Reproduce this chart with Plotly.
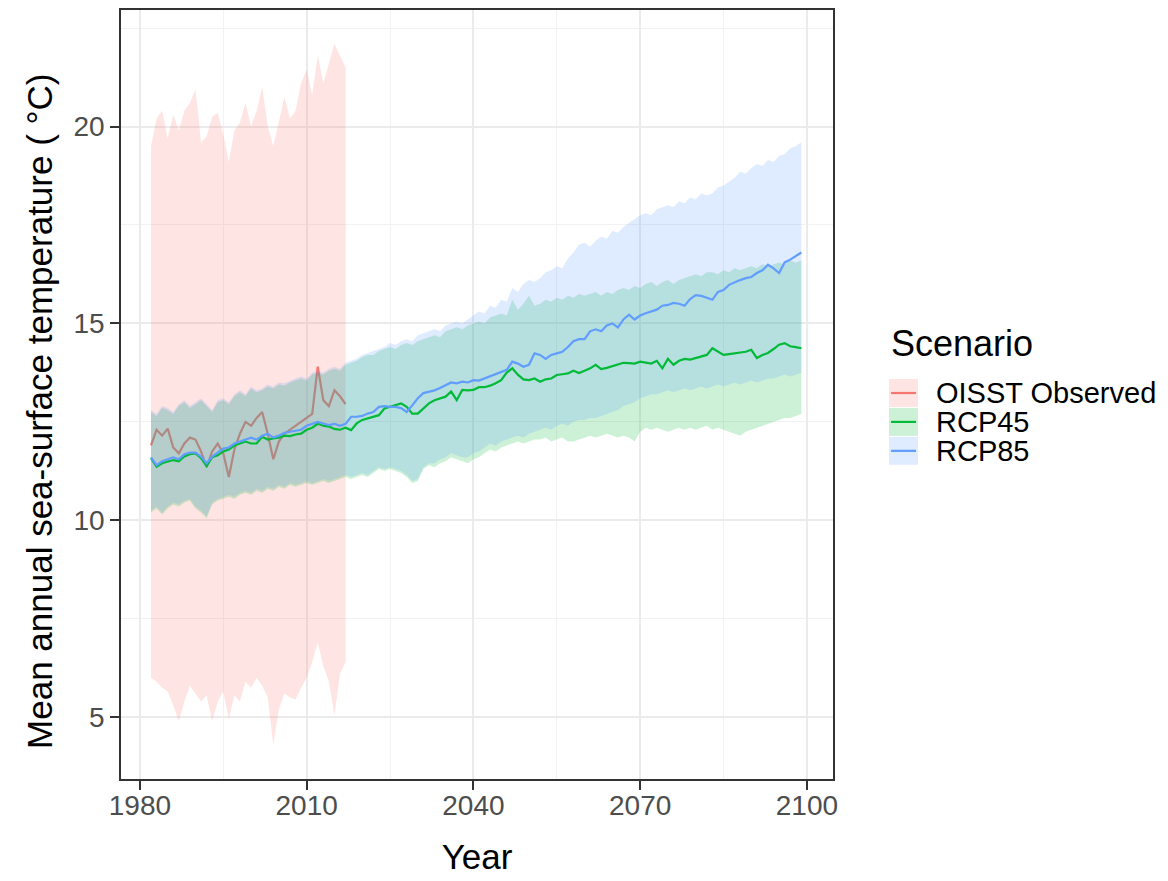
import plotly.graph_objects as go

# ---------------- data ----------------
obs_years = list(range(1982, 2018))
proj_years = list(range(1982, 2100))

oisst_mean = [11.9, 12.3, 12.15, 12.33, 11.85, 11.7, 11.95, 12.1, 12.05, 11.75,
              11.35, 11.75, 11.95, 11.7, 11.1, 11.8, 12.2, 12.5, 12.4, 12.6,
              12.75, 12.2, 11.55, 12.0, 12.2, 12.3, 12.4, 12.5, 12.6, 12.7,
              13.9, 13.05, 12.9, 13.3, 13.15, 12.95]
oisst_upper = [19.5, 20.2, 20.4, 19.7, 20.3, 19.9, 20.4, 20.6, 20.95, 19.6,
               19.75, 20.25, 20.35, 19.8, 19.1, 19.9, 20.1, 20.6, 20.0, 20.4,
               21.0, 20.0, 19.5, 20.1, 20.75, 20.2, 20.4, 21.1, 21.45, 20.8,
               21.8, 21.1, 21.6, 22.1, 21.8, 21.5]
oisst_lower = [6.0, 5.9, 5.75, 5.65, 5.3, 4.9, 5.4, 5.8, 5.6, 5.4,
               5.55, 4.9, 5.4, 5.65, 4.95, 5.55, 5.4, 5.9, 5.75, 6.0,
               5.8, 5.5, 4.3, 5.2, 5.6, 5.5, 5.45, 5.75, 6.0, 6.4,
               6.9, 6.3, 5.9, 5.05, 6.1, 6.4]

rcp45_mean = [11.58, 11.36, 11.45, 11.5, 11.53, 11.5, 11.62, 11.68, 11.7, 11.58,
              11.38, 11.6, 11.65, 11.75, 11.8, 11.9, 11.95, 12.0, 11.95, 11.95,
              12.12, 12.05, 12.08, 12.1, 12.15, 12.14, 12.18, 12.2, 12.3, 12.35,
              12.45, 12.4, 12.38, 12.32, 12.3, 12.35,
              12.29, 12.46, 12.55, 12.59, 12.63, 12.67, 12.84, 12.88, 12.93, 12.97,
              12.88, 12.71, 12.71, 12.84, 12.97, 13.05, 13.1, 13.14, 13.27, 13.05,
              13.31, 13.3, 13.31, 13.38, 13.38, 13.42, 13.48, 13.56, 13.75, 13.86,
              13.7, 13.58, 13.56, 13.6, 13.52, 13.58, 13.6, 13.69, 13.71, 13.73,
              13.8,
              13.74, 13.8, 13.86, 13.95, 13.84, 13.87, 13.92, 13.95, 14.0, 13.99,
              13.98, 14.03, 14.0, 13.98, 14.05, 13.86, 14.1, 13.95, 14.05, 14.1,
              14.08,
              14.12, 14.15, 14.2, 14.37, 14.28, 14.2, 14.22, 14.24, 14.25, 14.28,
              14.33, 14.12, 14.2, 14.25, 14.35, 14.46, 14.5, 14.42, 14.4, 14.37]
rcp45_upper = [12.75, 12.65, 12.85, 12.8, 12.7, 12.9, 13.0, 12.85, 12.95, 13.05,
               12.9, 12.75, 13.0, 13.05, 12.95, 13.15, 13.25, 13.15, 13.35, 13.25,
               13.3, 13.4, 13.35, 13.45, 13.42, 13.5, 13.55, 13.6, 13.55, 13.7,
               13.75, 13.7, 13.8, 13.85, 13.8, 13.95, 14.0, 14.05, 14.15, 14.2,
               14.2, 14.3, 14.35, 14.4, 14.35, 14.45, 14.5, 14.45, 14.55, 14.6,
               14.65, 14.7, 14.65, 14.8, 14.85, 14.9, 14.85, 14.95, 15.0, 15.05,
               15.0, 15.15, 15.2, 15.25, 15.2, 15.6, 15.35, 15.5, 15.7, 15.45,
               15.5, 15.6, 15.55, 15.65, 15.6, 15.7, 15.65, 15.75, 15.7, 15.75,
               15.8, 15.7, 15.8, 15.75, 15.85, 15.9, 15.85, 15.95, 15.9, 16.0,
               16.05, 15.95, 16.05, 16.1, 16.0, 16.1, 16.15, 16.2, 16.25, 16.2,
               16.3, 16.3, 16.25, 16.35, 16.3, 16.4, 16.35, 16.4, 16.45, 16.4,
               16.5, 16.45, 16.5, 16.55, 16.5, 16.6, 16.55, 16.6]
rcp45_lower = [10.2, 10.3, 10.15, 10.3, 10.4, 10.35, 10.45, 10.5, 10.3, 10.2,
               10.05, 10.4, 10.5, 10.55, 10.6, 10.55, 10.65, 10.7, 10.65, 10.75,
               10.7, 10.8, 10.75, 10.85, 10.8, 10.9, 10.85, 10.9, 10.95, 10.9,
               10.95, 11.0, 10.95, 11.0, 11.05, 11.1, 11.05, 11.1, 11.15, 11.1,
               11.2, 11.3, 11.25, 11.3, 11.25, 11.2, 11.1, 10.95, 11.0, 11.3,
               11.4, 11.35, 11.45, 11.5, 11.6, 11.55, 11.5, 11.45, 11.55, 11.6,
               11.7, 11.8, 11.75, 11.85, 11.9, 11.95, 12.0, 11.95, 12.0, 12.05,
               12.05, 12.1, 12.0, 12.05, 12.1, 12.0, 12.0, 12.05, 12.1, 12.15,
               12.1, 12.15, 12.2, 12.15, 12.1, 12.15, 12.1, 12.0, 12.25, 12.35,
               12.3, 12.35, 12.3, 12.25, 12.3, 12.35, 12.3, 12.35, 12.3, 12.35,
               12.4, 12.3, 12.35, 12.3, 12.25, 12.2, 12.15, 12.25, 12.3, 12.35,
               12.4, 12.45, 12.5, 12.55, 12.6, 12.6, 12.65, 12.7]

rcp85_mean = [11.6, 11.4, 11.5, 11.55, 11.6, 11.55, 11.68, 11.72, 11.72, 11.62,
              11.45, 11.62, 11.72, 11.82, 11.85, 11.95, 12.0, 12.05, 12.1, 12.05,
              12.15, 12.2, 12.1, 12.15, 12.22, 12.25, 12.28, 12.3, 12.4, 12.45,
              12.5, 12.46, 12.42, 12.45,
              12.4, 12.45, 12.63, 12.63, 12.65, 12.71, 12.75, 12.88, 12.9, 12.88,
              12.88, 12.85, 12.75, 12.92, 13.1, 13.23, 13.27, 13.3, 13.36, 13.42,
              13.5, 13.48, 13.52, 13.5, 13.56, 13.55, 13.6, 13.65, 13.7, 13.77,
              13.82, 14.03, 13.98, 13.9, 13.95, 14.24, 14.2, 14.1, 14.2, 14.24,
              14.28, 14.4, 14.55, 14.6,
              14.6, 14.8, 14.85, 14.8, 14.95, 15.0, 14.9, 15.1, 15.22, 15.1,
              15.2, 15.26, 15.3, 15.35, 15.45, 15.47, 15.52, 15.5, 15.45, 15.62,
              15.72, 15.7, 15.65, 15.6, 15.8, 15.85, 15.98, 16.05, 16.1, 16.15,
              16.18, 16.28, 16.35, 16.49, 16.4, 16.28, 16.55, 16.62, 16.7, 16.8]
rcp85_upper = [12.8, 12.7, 12.9, 12.85, 12.75, 12.95, 13.05, 12.9, 13.0, 13.1,
               12.95, 12.8, 13.05, 13.1, 13.0, 13.2, 13.3, 13.2, 13.4, 13.3,
               13.35, 13.45, 13.4, 13.5, 13.48, 13.55, 13.6, 13.65, 13.6, 13.75,
               13.8, 13.75, 13.85, 13.9, 13.85, 14.0, 14.05, 14.1, 14.2, 14.25,
               14.3, 14.35, 14.4, 14.5, 14.45, 14.55, 14.6, 14.55, 14.7, 14.75,
               14.8, 14.85, 14.8, 14.95, 15.0, 15.05, 15.0, 15.1, 15.2, 15.3,
               15.25, 15.45, 15.4, 15.6, 15.55, 15.9, 15.8, 16.0, 16.1, 16.05,
               16.15, 16.3, 16.35, 16.45, 16.4, 16.65, 16.8, 17.0, 17.05, 16.95,
               17.1, 17.2, 17.15, 17.35, 17.3, 17.45, 17.55, 17.65, 17.75, 17.8,
               17.75, 17.9, 17.95, 18.0, 17.95, 18.1, 18.05, 18.2, 18.15, 18.3,
               18.25, 18.3, 18.45, 18.5, 18.6, 18.7, 18.85, 18.8, 18.95, 19.05,
               19.0, 19.15, 19.1, 19.25, 19.3, 19.45, 19.5, 19.6]
rcp85_lower = [10.25, 10.35, 10.2, 10.35, 10.45, 10.4, 10.5, 10.55, 10.35, 10.25,
               10.1, 10.45, 10.55, 10.6, 10.65, 10.6, 10.7, 10.75, 10.7, 10.8,
               10.75, 10.85, 10.8, 10.9, 10.85, 10.95, 10.9, 10.95, 11.0, 10.95,
               11.0, 11.05, 11.0, 11.05, 11.1, 11.15, 11.1, 11.15, 11.2, 11.15,
               11.25, 11.35, 11.3, 11.35, 11.3, 11.25, 11.15, 11.0, 11.05, 11.35,
               11.45, 11.45, 11.55, 11.6, 11.7, 11.65, 11.6, 11.6, 11.7, 11.75,
               11.85, 11.95, 11.9, 12.0, 12.05, 12.1, 12.15, 12.1, 12.2, 12.25,
               12.3, 12.35, 12.3, 12.4, 12.45, 12.4, 12.5, 12.55, 12.55, 12.6,
               12.6, 12.65, 12.7, 12.75, 12.8, 12.9, 12.95, 13.0, 13.1, 13.15,
               13.2, 13.2, 13.25, 13.3, 13.25, 13.3, 13.35, 13.3, 13.35, 13.4,
               13.35, 13.4, 13.45, 13.4, 13.45, 13.5, 13.45, 13.5, 13.55, 13.5,
               13.55, 13.6, 13.6, 13.65, 13.7, 13.65, 13.7, 13.75]

scenario_names = ["OISST Observed", "RCP45", "RCP85"]
x_ticks = [1980, 2010, 2040, 2070, 2100]
y_ticks = [5, 10, 15, 20]

for arr in (oisst_mean, oisst_upper, oisst_lower):
    assert len(arr) == len(obs_years), len(arr)
for arr in (rcp45_mean, rcp45_upper, rcp45_lower, rcp85_mean, rcp85_upper, rcp85_lower):
    assert len(arr) == len(proj_years), len(arr)

# ---------------- styling ----------------
LINE_COLORS = ["#F8766D", "#00BA38", "#619CFF"]
FILL_COLORS = ["rgba(248,118,109,0.2)", "rgba(0,186,56,0.2)", "rgba(97,156,255,0.2)"]
LW = 2.2
FONT = "Liberation Sans, Arial, sans-serif"

series = [
    (obs_years, oisst_mean, oisst_upper, oisst_lower),
    (proj_years, rcp45_mean, rcp45_upper, rcp45_lower),
    (proj_years, rcp85_mean, rcp85_upper, rcp85_lower),
]

fig = go.Figure()


def ribbon(i):
    yrs, mean, up, lo = series[i]
    fig.add_trace(go.Scatter(
        x=list(yrs) + list(yrs)[::-1], y=list(up) + list(lo)[::-1],
        fill="toself", fillcolor=FILL_COLORS[i], mode="lines", line=dict(width=0),
        hoverinfo="skip", showlegend=False, name=scenario_names[i] + " range"))


def mean_line(i):
    yrs, mean, up, lo = series[i]
    fig.add_trace(go.Scatter(x=yrs, y=mean, mode="lines",
                             line=dict(color=LINE_COLORS[i], width=LW),
                             name=scenario_names[i], showlegend=False))


# observed layer first, then projections (ribbons then lines)
ribbon(0)
mean_line(0)
ribbon(1)
ribbon(2)
mean_line(1)
mean_line(2)

# ---------------- manual legend (ggplot-like keys) and y title ----------------
L, R, T, B = 121, 833, 8, 779  # panel pixel box


def px(xp):
    return (xp - L) / (R - L)


def py(yp):
    return (B - yp) / (B - T)


annotations = [
    dict(text="Scenario", x=px(889), y=py(342), xref="paper", yref="paper",
         xanchor="left", yanchor="middle", showarrow=False,
         font=dict(family=FONT, size=36, color="black")),
    dict(text="Mean annual sea-surface temperature ( °C)", textangle=-90,
         x=px(40), y=py(411), xref="paper", yref="paper",
         xanchor="center", yanchor="middle", showarrow=False,
         font=dict(family=FONT, size=35, color="black")),
]
shapes = []
row_y = [392, 421, 450]
for i, name in enumerate(scenario_names):
    yc = row_y[i]
    shapes.append(dict(type="rect", xref="paper", yref="paper",
                       x0=px(889), x1=px(918), y0=py(yc - 14), y1=py(yc + 14),
                       fillcolor=FILL_COLORS[i], line=dict(width=0), layer="above"))
    shapes.append(dict(type="line", xref="paper", yref="paper",
                       x0=px(891), x1=px(916), y0=py(yc), y1=py(yc),
                       line=dict(color=LINE_COLORS[i], width=LW), layer="above"))
    annotations.append(dict(text=name, x=px(934), y=py(yc), xref="paper", yref="paper",
                            xanchor="left", yanchor="middle", showarrow=False,
                            font=dict(family=FONT, size=29, color="black")))

axis_common = dict(
    showline=True, linecolor="#333333", linewidth=1.5, mirror=True,
    ticks="outside", ticklen=9, tickwidth=1.5, tickcolor="#333333",
    showgrid=True, gridcolor="#EBEBEB", gridwidth=2.2,
    tickfont=dict(family=FONT, size=28, color="#4D4D4D"),
    zeroline=False,
)

fig.update_layout(
    width=1168, height=881,
    margin=dict(l=L, r=1168 - R, t=T, b=881 - B),
    paper_bgcolor="white", plot_bgcolor="white",
    font=dict(family=FONT, color="black"),
    xaxis=dict(range=[1976.6, 2104.7], tickvals=x_ticks,
               minor=dict(tickvals=[1995, 2025, 2055, 2085], showgrid=True,
                          gridcolor="#F2F2F2", gridwidth=1.2, ticks=""),
               ticklabelstandoff=-8,
               title=dict(text="Year", font=dict(family=FONT, size=35, color="black"), standoff=24),
               **axis_common),
    yaxis=dict(range=[3.43, 22.96], tickvals=y_ticks,
               minor=dict(tickvals=[7.5, 12.5, 17.5, 22.5], showgrid=True,
                          gridcolor="#F2F2F2", gridwidth=1.2, ticks=""),
               **axis_common),
    showlegend=False,
    annotations=annotations,
    shapes=shapes,
)

fig.write_html("out.html")
